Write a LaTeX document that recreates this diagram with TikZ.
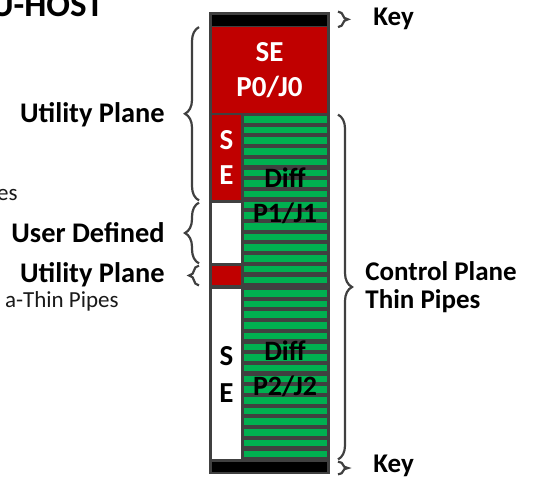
\documentclass[tikz,border=0pt]{standalone}
\usepackage{fontspec}
\setmainfont{Carlito}
\usetikzlibrary{decorations.pathreplacing}
\definecolor{sered}{RGB}{192,0,0}
\definecolor{pipegreen}{RGB}{0,176,80}
\definecolor{frame}{RGB}{64,64,64}

\begin{document}
\begin{tikzpicture}[x=0.5pt, y=-0.5pt,
    blk/.style={rectangle, draw=none, inner sep=0pt},
    keybar/.style={blk, fill=black, minimum width=57.5pt},
    redblk/.style={blk, fill=sered, font=\fontsize{14.5}{17.5}\selectfont\bfseries\color{white}, align=center},
    whiteblk/.style={blk, fill=white, font=\fontsize{14.5}{18.5}\selectfont\bfseries, align=center},
    pipe/.style={fill=pipegreen},
    difftxt/.style={inner sep=0pt, font=\fontsize{14}{17.5}\selectfont\bfseries, align=center},
    lbl/.style={inner sep=0pt, font=\fontsize{14.2}{14.2}\selectfont\bfseries},
    rlbl/.style={inner sep=0pt, font=\fontsize{13.5}{14}\selectfont\bfseries, align=left},
    brc/.style={draw=frame, line width=1.1pt, decorate, decoration={brace, amplitude=7pt}}
]
    \useasboundingbox (0,0) rectangle (539,481);

    % Cut-off texts on the left edge
    \node[anchor=base east, inner sep=0pt, font=\fontsize{17.5}{17.5}\selectfont\bfseries] (host) at (104,17) {U-HOST};
    \node[anchor=base east, inner sep=0pt, font=\fontsize{11.5}{11.5}\selectfont, color=black!90] (pipesa) at (18,200) {es};
    \node[anchor=base east, inner sep=0pt, font=\fontsize{11.5}{11.5}\selectfont, color=black!90] (pipesb) at (119,307) {a-Thin Pipes};

    % Column frame
    \node[blk, fill=frame, minimum width=60.5pt, minimum height=231pt] (frame) at (269.5,243) {};

    % Key bars
    \node[keybar, minimum height=5.5pt] (keytop) at (269.5,20.5) {};
    \node[keybar, minimum height=5pt] (keybot) at (269.5,467) {};

    % SE blocks on the left
    \node[redblk, minimum width=57.5pt, minimum height=42.75pt] (se0) at (269.5,70.25) {SE\\P0/J0};
    \node[redblk, minimum width=14.5pt, minimum height=42.5pt] (se1) at (226.5,157.5) {S\\E};
    \node[whiteblk, minimum width=14.5pt, minimum height=30pt] (user) at (226.5,233) {};
    \node[redblk, minimum width=14.5pt, minimum height=9.5pt] (util) at (226.5,275.5) {};
    \node[whiteblk, minimum width=14.5pt, minimum height=85pt] (se2) at (226.5,374) {S\\E};

    % Thin pipes
    \foreach \k in {0,...,15} {
        \fill[pipe] (244,116+10.7*\k) rectangle (327,122.5+10.7*\k);
        \fill[pipe] (244,290+10.7*\k) rectangle (327,296.5+10.7*\k);
    }
    \node[difftxt] (diff1) at (285,195.5) {Diff\\P1/J1};
    \node[difftxt] (diff2) at (285,369) {Diff\\P2/J2};

    % Braces
    \coordinate (lb) at (199,0);
    \coordinate (rb) at (338,0);
    \draw[brc] (lb |- se1.south) -- (lb |- se0.north);
    \draw[brc] (lb |- user.south) -- (lb |- user.north);
    \draw[brc, decoration={amplitude=5pt}] (lb |- util.south) -- (lb |- util.north);
    \draw[brc, decoration={amplitude=5pt}] (rb |- frame.north) -- (rb |- se0.north);
    \draw[brc] (rb |- se1.north) -- (rb |- se2.south);
    \draw[brc, decoration={amplitude=5pt}] (rb |- keybot.north) -- (rb |- frame.south);

    % Labels
    \node[lbl, anchor=east] (util1) at (165,115) {Utility Plane};
    \node[lbl, anchor=east] (userdef) at (165,233) {User Defined};
    \node[lbl, anchor=east] (util2) at (165,275) {Utility Plane};
    \node[rlbl, anchor=west] (key1) at (373,19) {Key};
    \node[rlbl, anchor=west] (key2) at (373,466) {Key};
    \node[rlbl, anchor=west] (ctrl) at (365,287) {Control Plane\\Thin Pipes};
\end{tikzpicture}
\end{document}
